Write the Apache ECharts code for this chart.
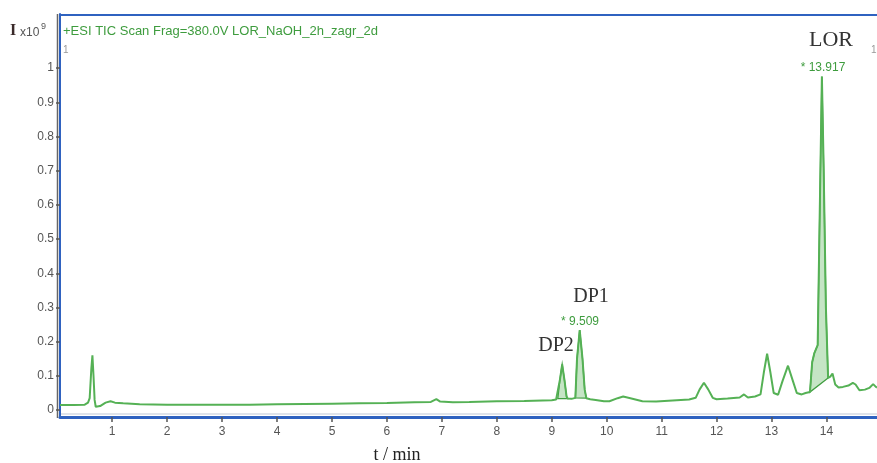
<!DOCTYPE html>
<html>
<head>
<meta charset="utf-8">
<script src="https://cdn.jsdelivr.net/npm/echarts@6/dist/echarts.min.js"></script>
<style>
html,body{margin:0;padding:0;background:#fff;}
#chart{width:877px;height:463px;}
</style>
</head>
<body>
<div id="chart"></div>
<script>
// Retention time (min)
const timeMin = [0.05,0.3,0.5,0.56,0.59,0.62,0.64,0.66,0.68,0.70,0.78,0.88,0.97,1.05,1.2,1.5,2.0,2.5,3.0,3.5,4.0,4.5,5.0,5.5,6.0,6.5,6.8,6.9,6.97,7.2,7.5,8.0,8.5,9.0,9.08,9.11,9.15,9.19,9.23,9.27,9.29,9.36,9.43,9.46,9.509,9.56,9.6,9.63,9.7,9.8,9.95,10.05,10.2,10.3,10.45,10.65,10.9,11.2,11.5,11.62,11.69,11.77,11.85,11.93,12.0,12.2,12.42,12.5,12.57,12.7,12.8,12.86,12.92,12.98,13.04,13.12,13.2,13.30,13.39,13.46,13.55,13.62,13.70,13.74,13.78,13.84,13.88,13.917,13.95,13.99,14.03,14.07,14.11,14.16,14.22,14.3,14.4,14.48,14.53,14.6,14.7,14.78,14.85,14.9,14.92];
// TIC intensity (x10^9)
const intensity = [0.015,0.015,0.016,0.022,0.035,0.12,0.16,0.10,0.03,0.01,0.012,0.022,0.026,0.022,0.02,0.017,0.016,0.016,0.016,0.016,0.017,0.018,0.019,0.02,0.021,0.023,0.024,0.032,0.025,0.023,0.024,0.026,0.027,0.029,0.031,0.034,0.09,0.134,0.09,0.04,0.034,0.033,0.036,0.15,0.234,0.15,0.06,0.035,0.032,0.03,0.026,0.026,0.035,0.04,0.034,0.026,0.025,0.028,0.031,0.036,0.06,0.08,0.06,0.036,0.032,0.034,0.037,0.046,0.037,0.04,0.046,0.11,0.165,0.11,0.05,0.045,0.085,0.13,0.085,0.05,0.046,0.05,0.053,0.14,0.167,0.19,0.6,0.975,0.7,0.3,0.094,0.098,0.107,0.075,0.066,0.068,0.072,0.08,0.075,0.058,0.06,0.065,0.076,0.068,0.066];
// Integrated peak ranges (start, end in min)
const peakStart = [9.11, 9.43, 13.70];
const peakEnd = [9.29, 9.63, 14.03];
// Peak annotations
const peakNames = ['DP2', 'DP1', 'LOR'];
const peakRt = ['', '9.509', '13.917'];
// Tick labels
const xTicks = [1,2,3,4,5,6,7,8,9,10,11,12,13,14];
const yTicks = [0,0.1,0.2,0.3,0.4,0.5,0.6,0.7,0.8,0.9,1];

const trace = timeMin.map((t, i) => [t, intensity[i]]);
const fillData = peakStart.map((s, i) => [s, peakEnd[i]]);

const chart = echarts.init(document.getElementById('chart'), null, {renderer: 'canvas'});
const green = '#55b155';
const blue = '#2f62c0';
const labelFont = 'Liberation Sans, Arial, sans-serif';
const serif = 'Liberation Serif, Times New Roman, serif';

chart.setOption({
  animation: false,
  backgroundColor: '#fff',
  grid: {left: 60, right: 0, top: 14, bottom: 46},
  xAxis: {
    type: 'value', min: 0.05, max: 14.92,
    axisLine: {show: true, onZero: false, lineStyle: {color: blue, width: 3}},
    axisTick: {show: true, length: 5, lineStyle: {color: '#555', width: 1.5}, customValues: xTicks},
    axisLabel: {color: '#555', fontSize: 12, fontFamily: labelFont, margin: 9, customValues: xTicks},
    splitLine: {show: false}
  },
  yAxis: {
    type: 'value', min: -0.02, max: 1.158,
    axisLine: {show: true, onZero: false, lineStyle: {color: blue, width: 2}},
    axisTick: {show: true, length: 4, lineStyle: {color: '#555', width: 1.5}, customValues: yTicks},
    axisLabel: {color: '#555', fontSize: 12, fontFamily: labelFont, margin: 6, customValues: yTicks,
      formatter: v => (v === 0 || v === 1) ? String(v) : v.toFixed(1)},
    splitLine: {show: false}
  },
  series: [
    {
      type: 'custom',
      coordinateSystem: 'cartesian2d',
      data: fillData,
      encode: {x: [0, 1]},
      z: 3,
      renderItem: function (params, api) {
        const s = api.value(0), e = api.value(1);
        const pts = trace.filter(p => p[0] >= s - 1e-9 && p[0] <= e + 1e-9).map(p => api.coord(p));
        return {
          type: 'polygon',
          shape: {points: pts},
          style: {fill: 'rgba(90,180,90,0.35)', stroke: '#3f9d3f', lineWidth: 1.3}
        };
      }
    },
    {
      type: 'line',
      data: trace,
      showSymbol: false,
      symbol: 'none',
      z: 4,
      lineStyle: {color: green, width: 2},
      silent: true
    }
  ],
  graphic: [
    {type: 'line', shape: {x1: 60, y1: 15, x2: 877, y2: 15}, style: {stroke: blue, lineWidth: 2}},
    {type: 'line', shape: {x1: 57.5, y1: 14, x2: 57.5, y2: 418}, style: {stroke: '#666', lineWidth: 1.5}},
    {type: 'line', shape: {x1: 61, y1: 414, x2: 877, y2: 414}, style: {stroke: '#dfe3ea', lineWidth: 2}},
    {type: 'text', x: 10, y: 31, style: {text: 'I', font: 'bold 16px ' + serif, fill: '#3a2a2a', textVerticalAlign: 'middle'}},
    {type: 'text', x: 20, y: 33, style: {text: 'x10', font: '12px ' + labelFont, fill: '#555', textVerticalAlign: 'middle'}},
    {type: 'text', x: 41, y: 27, style: {text: '9', font: '9px ' + labelFont, fill: '#555', textVerticalAlign: 'middle'}},
    {type: 'text', x: 63, y: 31, style: {text: '+ESI TIC Scan Frag=380.0V LOR_NaOH_2h_zagr_2d', font: '13px ' + labelFont, fill: '#3e9c3e', textVerticalAlign: 'middle'}},
    {type: 'text', x: 63, y: 50, style: {text: '1', font: '10px ' + labelFont, fill: '#999', textVerticalAlign: 'middle'}},
    {type: 'text', x: 871, y: 50, style: {text: '1', font: '10px ' + labelFont, fill: '#999', textVerticalAlign: 'middle'}},
    {type: 'text', x: 831, y: 40, style: {text: peakNames[2], font: '22px ' + serif, fill: '#333', textAlign: 'center', textVerticalAlign: 'middle'}},
    {type: 'text', x: 823, y: 68, style: {text: '* ' + peakRt[2], font: '12px ' + labelFont, fill: '#3e9c3e', textAlign: 'center', textVerticalAlign: 'middle'}},
    {type: 'text', x: 591, y: 297, style: {text: peakNames[1], font: '20px ' + serif, fill: '#333', textAlign: 'center', textVerticalAlign: 'middle'}},
    {type: 'text', x: 580, y: 322, style: {text: '* ' + peakRt[1], font: '12px ' + labelFont, fill: '#3e9c3e', textAlign: 'center', textVerticalAlign: 'middle'}},
    {type: 'text', x: 556, y: 346, style: {text: peakNames[0], font: '20px ' + serif, fill: '#333', textAlign: 'center', textVerticalAlign: 'middle'}},
    {type: 'text', x: 397, y: 455, style: {text: 't / min', font: '18px ' + serif, fill: '#222', textAlign: 'center', textVerticalAlign: 'middle'}}
  ]
});
</script>
</body>
</html>
